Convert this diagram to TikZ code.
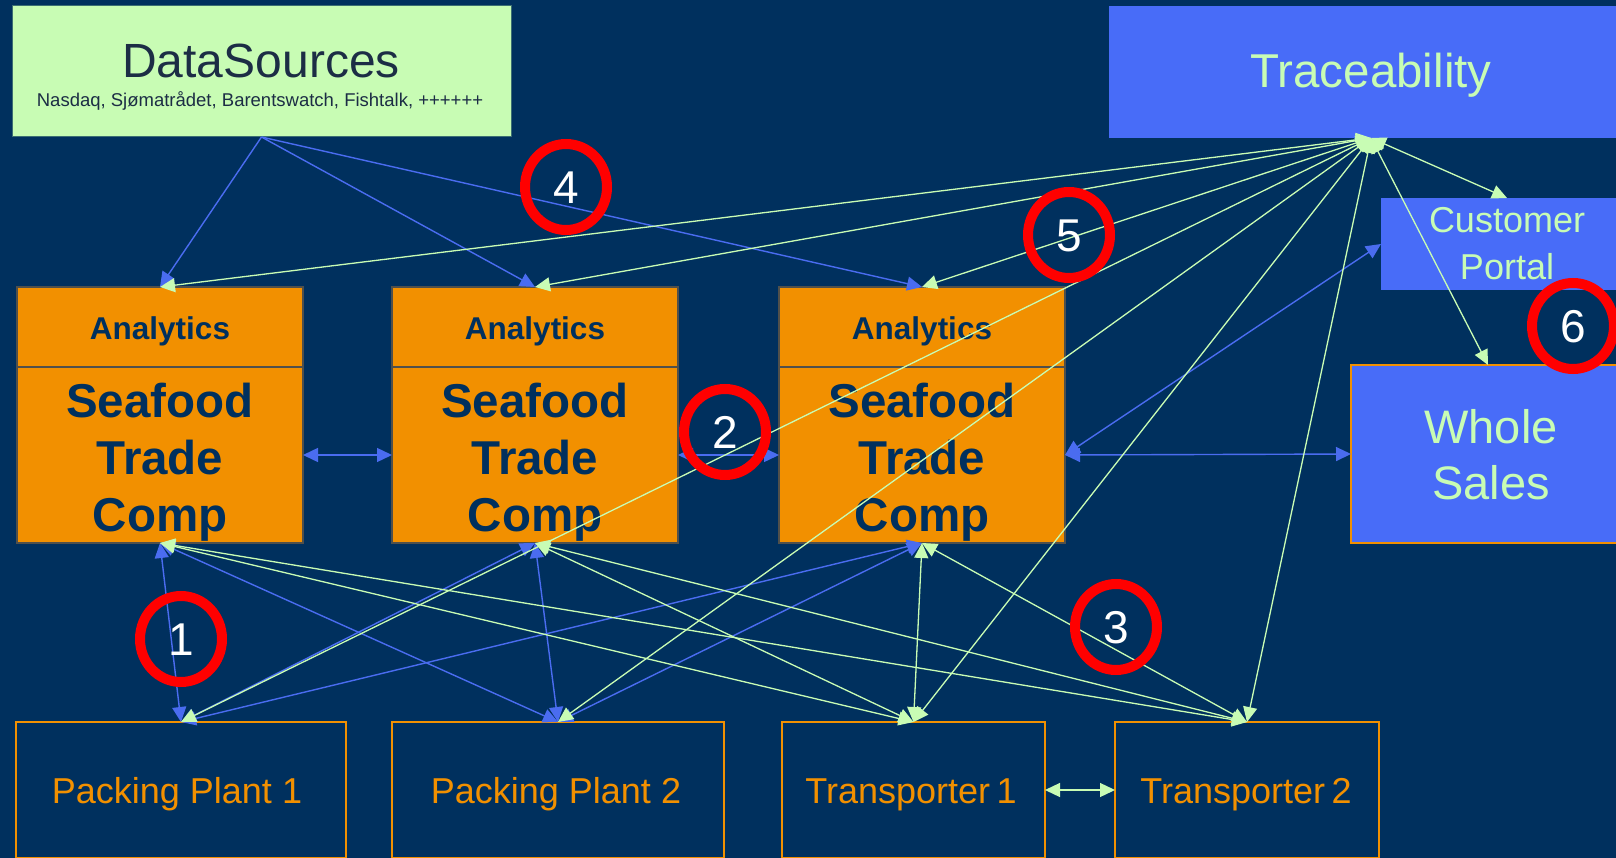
\documentclass[tikz,border=0pt]{standalone}
\usepackage{fontspec}
\setmainfont{Liberation Sans}
\usetikzlibrary{arrows.meta}
\definecolor{bg}{RGB}{0,48,94}
\definecolor{lgreen}{RGB}{200,252,180}
\definecolor{tblue}{RGB}{72,108,248}
\definecolor{lblue}{RGB}{74,108,240}
\definecolor{orng}{RGB}{242,144,0}
\definecolor{navytxt}{RGB}{0,48,94}
\definecolor{dstxt}{RGB}{28,45,69}
\definecolor{dsedge}{RGB}{60,110,115}
\definecolor{anaedge}{RGB}{80,80,76}
\newcommand\setfs[1]{\fontsize{#1}{#1}\selectfont}
\begin{document}
\begin{tikzpicture}[x=1pt,y=-1pt,
  >={Triangle[length=15pt,width=14pt]},
  every node/.style={inner sep=0pt, outer sep=0pt},
  dsbox/.style={rectangle, fill=lgreen, draw=dsedge, line width=1pt},
  trbox/.style={rectangle, fill=tblue},
  wsbox/.style={rectangle, fill=tblue, draw=orng, line width=2.5pt},
  anabox/.style={rectangle, fill=orng, draw=anaedge, line width=1.2pt, minimum width=286pt, minimum height=80pt},
  seabox/.style={rectangle, fill=orng, draw=anaedge, line width=1.2pt, minimum width=286pt, minimum height=176pt},
  plantbox/.style={rectangle, fill=bg, draw=orng, line width=2pt, minimum height=136pt},
  lbl/.style={anchor=base},
  dstext/.style={lbl, text=dstxt},
  trtext/.style={lbl, text=lgreen},
  anatext/.style={lbl, text=navytxt, font=\setfs{31.5}\bfseries},
  seatext/.style={lbl, text=navytxt, font=\setfs{47.5}\bfseries},
  planttext/.style={lbl, text=orng, font=\setfs{36}},
  bline/.style={draw=lblue, fill=lblue, line width=1.4pt},
  gline/.style={draw=lgreen, fill=lgreen, line width=1.3pt},
  ring/.style={draw=red, line width=10pt},
  numtext/.style={lbl, text=white, font=\setfs{46}}
]
\useasboundingbox (0,0) rectangle (1616,858);
\fill[bg] (0,0) rectangle (1616,858);

% boxes
\node[dsbox, minimum width=499pt, minimum height=131pt] (ds) at (261.5,71.5) {};
\node[trbox, minimum width=524pt, minimum height=132pt] (tr) at (1371,72) {};
\node[trbox, minimum width=252pt, minimum height=92pt] (cp) at (1507,244) {};
\node[wsbox, minimum width=274pt, minimum height=178pt] (ws) at (1488,454) {};

\node[anabox] (ana1) at (160,327) {};
\node[anabox] (ana2) at (535,327) {};
\node[anabox] (ana3) at (922,327) {};
\node[seabox] (sea1) at (160,455) {};
\node[seabox] (sea2) at (535,455) {};
\node[seabox] (sea3) at (922,455) {};

\node[plantbox, minimum width=330pt] (pp1) at (181,790) {};
\node[plantbox, minimum width=332pt] (pp2) at (558,790) {};
\node[plantbox, minimum width=263pt] (t1) at (913.5,790) {};
\node[plantbox, minimum width=264pt] (t2) at (1247,790) {};

% texts
\node[dstext, font=\setfs{48}] (dsl1) at (261,78) {DataSources};
\node[dstext, font=\setfs{18.5}] (dsl2) at (260,107) {Nasdaq, Sjømatrådet, Barentswatch, Fishtalk, ++++++};
\node[trtext, font=\setfs{47.5}] (trl) at (1371,88) {Traceability};
\node[trtext, font=\setfs{36}] (cpl1) at (1507,233) {Customer};
\node[trtext, font=\setfs{36}] (cpl2) at (1507,280) {Portal};
\node[trtext, font=\setfs{47}] (wsl1) at (1491,443) {Whole};
\node[trtext, font=\setfs{47}] (wsl2) at (1491,499) {Sales};
\foreach \i/\cx in {1/160,2/535,3/922}{
  \node[anatext] (anal\i) at (\cx,339) {Analytics};
  \node[seatext] (seal\i a) at (\cx,417) {Seafood};
  \node[seatext] (seal\i b) at (\cx,474) {Trade};
  \node[seatext] (seal\i c) at (\cx,531) {Comp};
}
\node[planttext] (pp1l) at (177,803) {Packing Plant 1};
\node[planttext] (pp2l) at (556,803) {Packing Plant 2};
\node[planttext] (t1l) at (911,803) {Transporter\hspace{0.18em}1};
\node[planttext] (t2l) at (1246,803) {Transporter\hspace{0.18em}2};

% connectors: DataSources
\foreach \a in {ana1,ana2,ana3}
  \draw[bline,->] (ds.south) -- (\a.north);
% connectors: seafood (blue)
\draw[bline,<->] (sea1.east) -- (sea2.west);
\draw[bline,<->] (sea2.east) -- (sea3.west);
\draw[bline,<->] (sea3.east) -- (ws.west);
\draw[bline,<->] (sea3.east) -- (cp.west);
\foreach \s in {sea1,sea2,sea3}
  \foreach \p in {pp1,pp2}
    \draw[bline,<->] (\s.south) -- (\p.north);
% connectors: traceability (green)
\foreach \a in {ana1,ana2,ana3,cp,ws,pp1,pp2,t1,t2}
  \draw[gline,<->] (tr.south) -- (\a.north);
\foreach \s in {sea1,sea2,sea3}
  \foreach \p in {t1,t2}
    \draw[gline,<->] (\s.south) -- (\p.north);
\draw[gline,<->] (t1.east) -- (t2.west);

% numbered rings
\foreach \n/\cx/\cy in {1/181/639,2/725/432,3/1116/627,4/566/187,5/1069/235,6/1573/326}{
  \draw[ring] (\cx,\cy) ellipse [x radius=41pt, y radius=43pt];
  \node[numtext] (num\n) at (\cx,\cy+16.5) {\n};
}
\end{tikzpicture}
\end{document}
